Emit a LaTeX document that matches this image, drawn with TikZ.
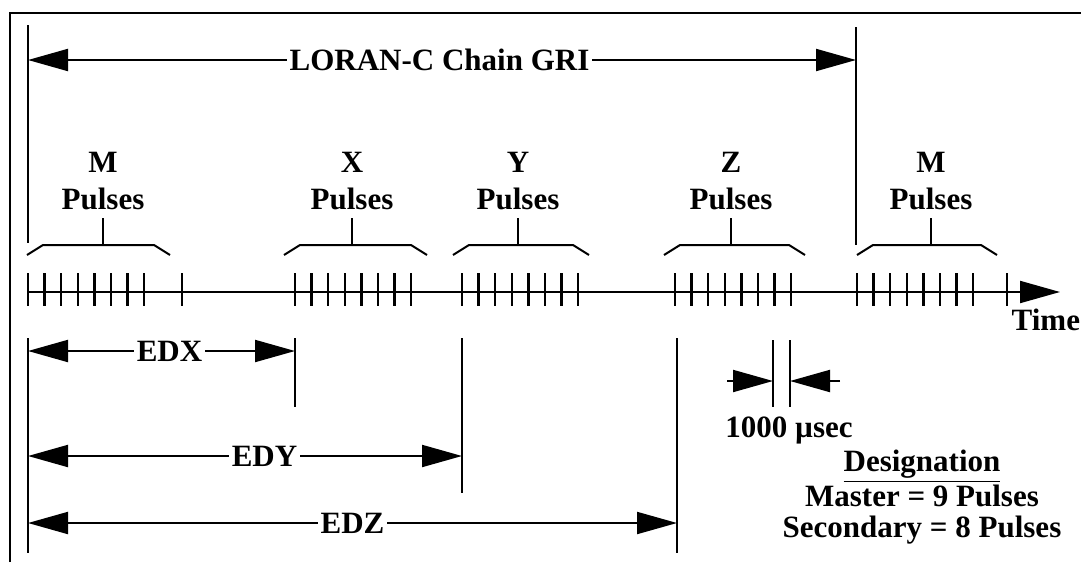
\documentclass[tikz,border=0pt]{standalone}
\usepackage{fontspec}
\setmainfont{Liberation Serif}
\usetikzlibrary{arrows.meta}

\begin{document}
\begin{tikzpicture}[
    x=0.5pt, y=-0.5pt,
    line width=1pt,
    lbl/.style={font=\bfseries\fontsize{15.5}{18.5}\selectfont, inner sep=1.5pt, align=center},
    gap/.style={lbl, fill=white},
    arrow/.style={-{Triangle[length=20pt,width=11pt]}},
    dimarrow/.style={{Triangle[length=20pt,width=11pt]}-{Triangle[length=20pt,width=11pt]}},
    pulse/.style={line width=1.2pt}
  ]
    \useasboundingbox (0,0) rectangle (1081,562);
    \draw (10,562) -- (10,13) -- (1081,13);

    % GRI span
    \coordinate (griL) at (28,60);
    \coordinate (griR) at (856,60);
    \draw (28,25) -- (28,243);
    \draw (856,27) -- (856,245);
    \draw[dimarrow] (griL) -- node[gap, pos=0.497] (gri) {LORAN-C Chain GRI} (griR);

    % pulse groups
    \foreach \c/\l/\r/\t [count=\i] in {103/27/170/M, 352/284/427/X, 518/453/589/Y, 731/664/805/Z, 931/857/997/M} {
      \node[lbl] (grp\i) at (\c,181) {\t\\Pulses};
      \draw (\c,218) -- (\c,245);
      \draw (\l,255) -- (\l+16,245) -- (\r-16,245) -- (\r,255);
    }

    % time axis
    \coordinate (t0) at (28,292);
    \coordinate (t1) at (1060,292);
    \draw[arrow] (t0) -- (t1);
    \foreach \s in {28,295,462,675,857}
      \foreach \k in {0,...,7}
        \draw[pulse] (\s+\k*16.6,273) -- (\s+\k*16.6,306);
    \draw[pulse] (182,273) -- (182,306);
    \draw[pulse] (1007,273) -- (1007,306);
    \node[lbl, anchor=north east] (time) at (1084,305) {Time};

    % emission delays
    \draw (28,338) -- (28,553);
    \draw (295,338) -- (295,407);
    \draw (462,338) -- (462,493);
    \draw (677,338) -- (677,553);
    \coordinate (edxL) at (28,351);
    \coordinate (edxR) at (295,351);
    \coordinate (edyL) at (28,456);
    \coordinate (edyR) at (462,456);
    \coordinate (edzL) at (28,523);
    \coordinate (edzR) at (677,523);
    \draw[dimarrow] (edxL) -- node[gap, pos=0.53] (edx) {EDX} (edxR);
    \draw[dimarrow] (edyL) -- node[gap, pos=0.545] (edy) {EDY} (edyR);
    \draw[dimarrow] (edzL) -- node[gap] (edz) {EDZ} (edzR);

    % pulse spacing
    \draw (773,340) -- (773,407);
    \draw (790,340) -- (790,407);
    \coordinate (spL) at (727,381);
    \coordinate (spR) at (840,381);
    \draw[arrow] (spL) -- (773,381);
    \draw[arrow] (spR) -- (790,381);
    \node[lbl] (usec) at (789,430) {1000 µsec};

    \node[lbl, font=\bfseries\fontsize{15.5}{15.5}\selectfont] (desig) at (922,497)
      {\underline{Designation}\\Master = 9 Pulses\\Secondary = 8 Pulses};
  \end{tikzpicture}
\end{document}
